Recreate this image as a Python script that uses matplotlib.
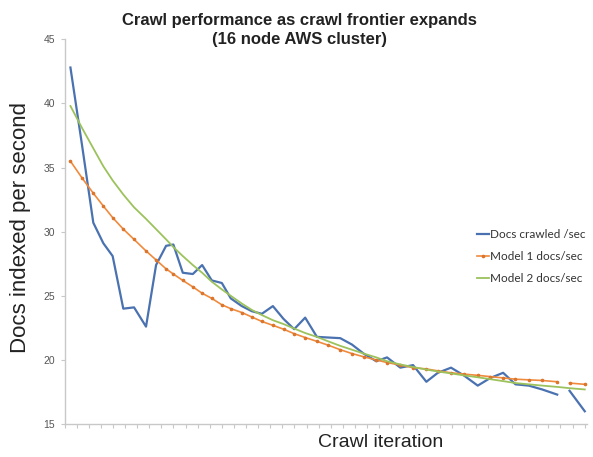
import matplotlib.pyplot as plt
import numpy as np

# crawl iterations (positions read along the x axis, one unit per tick)
iteration = [0.48, 1.43, 2.37, 3.20, 3.97, 4.85, 5.74, 6.73, 7.56, 8.39,
             8.99, 9.77, 10.60, 11.37, 12.17, 13.00, 13.74, 14.65, 15.48, 16.31,
             17.22, 18.10, 18.98, 19.89, 20.86, 21.80, 22.79, 23.76, 24.72, 25.77,
             26.66, 27.76, 28.81, 29.91, 30.86, 31.95, 33.00, 34.16, 35.21, 36.26,
             37.28, 38.38, 39.49, 40.73, 41.25, 41.75, 43.01]

crawled = [42.8, 36.8, 30.7, 29.1, 28.1, 24.0, 24.1, 22.6, 27.4, 28.9,
           29.0, 26.8, 26.7, 27.4, 26.2, 26.0, 24.8, 24.2, 23.8, 23.6,
           24.2, 23.2, 22.4, 23.3, 21.8, 21.75, 21.7, 21.2, 20.5, 19.9,
           20.2, 19.4, 19.6, 18.3, 19.0, 19.4, 18.8, 18.0, 18.6, 19.0,
           18.1, 18.0, 17.7, 17.3, np.nan, 17.6, 16.0]

model1 = [35.5, 34.2, 33.0, 32.0, 31.1, 30.2, 29.4, 28.5, 27.8, 27.1,
          26.7, 26.2, 25.7, 25.2, 24.8, 24.3, 24.0, 23.7, 23.35, 23.0,
          22.7, 22.4, 22.05, 21.75, 21.45, 21.15, 20.8, 20.5, 20.25, 20.0,
          19.8, 19.6, 19.4, 19.3, 19.15, 19.0, 18.9, 18.8, 18.7, 18.6,
          18.5, 18.45, 18.4, 18.3, np.nan, 18.2, 18.1]

model2 = [39.8, 38.1, 36.5, 35.1, 34.0, 32.9, 31.9, 31.0, 30.2, 29.4,
          28.8, 28.1, 27.4, 26.8, 26.1, 25.5, 25.0, 24.4, 23.9, 23.5,
          23.1, 22.8, 22.45, 22.1, 21.8, 21.45, 21.1, 20.8, 20.5, 20.2,
          19.9, 19.65, 19.45, 19.25, 19.1, 18.95, 18.8, 18.65, 18.5, 18.35,
          18.2, 18.1, 18.0, 17.9, 17.85, 17.8, 17.7]

labels = ["Docs crawled /sec", "Model 1 docs/sec", "Model 2 docs/sec"]

plt.rcParams["font.family"] = ["Liberation Sans", "DejaVu Sans"]

fig = plt.figure(figsize=(5.93, 4.57), dpi=100)
ax = fig.add_axes([0.109, 0.072, 0.881, 0.842])

ax.plot(iteration, crawled, color="#4a72b0", lw=1.6, label=labels[0])
ax.plot(iteration, model1, color="#f08a3c", lw=1.2, marker="o", ms=1.6,
        mec="#d9752c", mfc="#e07a30", label=labels[1])
ax.plot(iteration, model2, color="#9cc25c", lw=1.3, label=labels[2])

ax.set_xlim(0, 43.2)
ax.set_ylim(15, 45)
ax.set_xticks(np.arange(0, 44))
ax.set_xticklabels([])
ax.set_yticks(np.arange(15, 46, 5))

for side in ["top", "right"]:
    ax.spines[side].set_visible(False)
for side in ["left", "bottom"]:
    ax.spines[side].set_color("#c8c8c8")
    ax.spines[side].set_linewidth(1.0)
ax.tick_params(axis="both", colors="#c8c8c8", length=3, width=0.8,
               labelcolor="#555555", labelsize=7.5)
ax.tick_params(axis="y", pad=4)

ax.set_ylabel("Docs indexed per second", fontsize=16, color="#222222")
ax.yaxis.set_label_coords(-0.064, 0.51)
ax.set_xlabel("Crawl iteration", fontsize=14, color="#222222")
ax.xaxis.set_label_coords(0.605, -0.026)

fig.text(0.505, 0.934, "Crawl performance as crawl frontier expands\n(16 node AWS cluster)",
         ha="center", va="center", fontsize=12, fontweight="bold",
         linespacing=1.35, color="#222222")

leg = ax.legend(loc="upper left", bbox_to_anchor=(0.78, 0.52), frameon=False,
                fontsize=8.5, handlelength=1.0, handletextpad=0.15,
                labelspacing=0.95, borderaxespad=0)
for t in leg.get_texts():
    t.set_family(["Lato", "DejaVu Sans"])
    t.set_color("#333333")

plt.savefig("out.png", dpi=100)
plt.close()
